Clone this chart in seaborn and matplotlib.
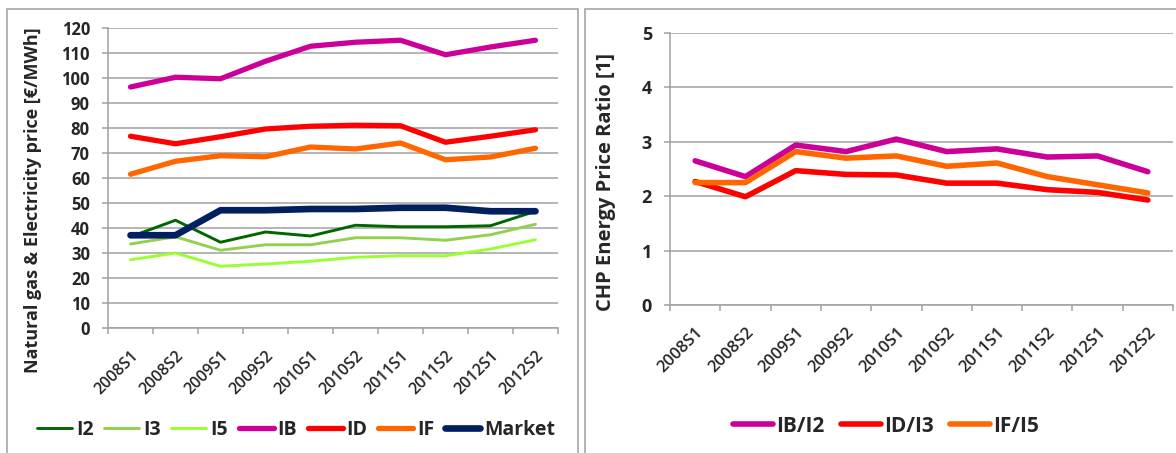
import matplotlib
matplotlib.use("Agg")
import matplotlib.pyplot as plt
import seaborn as sns
import pandas as pd
from matplotlib.patches import Rectangle

# Half-year periods
periods = ["2008S1", "2008S2", "2009S1", "2009S2", "2010S1",
           "2010S2", "2011S1", "2011S2", "2012S1", "2012S2"]

# Natural gas prices by consumer band [EUR/MWh]
i2 = [36.5, 43.1, 34.3, 38.4, 36.8, 41.1, 40.5, 40.5, 40.9, 46.7]
i3 = [33.6, 36.5, 31.1, 33.3, 33.3, 36.1, 36.1, 35.1, 37.3, 41.5]
i5 = [27.3, 30.0, 24.7, 25.6, 26.7, 28.3, 28.9, 28.9, 31.6, 35.3]
# Electricity prices by consumer band [EUR/MWh]
ib = [96.4, 100.3, 99.7, 106.7, 112.7, 114.3, 115.1, 109.3, 112.4, 115.1]
id_ = [76.7, 73.7, 76.5, 79.6, 80.7, 81.1, 80.9, 74.3, 76.7, 79.3]
if_ = [61.5, 66.7, 68.9, 68.5, 72.4, 71.6, 74.0, 67.3, 68.4, 71.9]
market = [37.1, 37.1, 47.1, 47.1, 47.6, 47.6, 48.1, 48.1, 46.7, 46.7]

# CHP energy price ratios [1]
ib_i2 = [2.65, 2.36, 2.94, 2.82, 3.05, 2.82, 2.87, 2.72, 2.74, 2.45]
id_i3 = [2.27, 1.99, 2.47, 2.40, 2.39, 2.24, 2.24, 2.12, 2.07, 1.93]
if_i5 = [2.25, 2.25, 2.82, 2.70, 2.74, 2.55, 2.61, 2.36, 2.21, 2.06]

price_series = [
    ("I2", i2, "#006600", 2.1),
    ("I3", i3, "#92D050", 2.1),
    ("I5", i5, "#99FF33", 2.1),
    ("IB", ib, "#CC0099", 3.8),
    ("ID", id_, "#FF0000", 3.8),
    ("IF", if_, "#FF6600", 3.8),
    ("Market", market, "#002060", 4.8),
]
ratio_series = [
    ("IB/I2", ib_i2, "#CC0099", 4.0),
    ("ID/I3", id_i3, "#FF0000", 4.0),
    ("IF/I5", if_i5, "#FF6600", 4.0),
]

sns.set_theme(style="white")
plt.rcParams["font.family"] = ["Open Sans", "DejaVu Sans"]

W, H = 1176, 453
fig = plt.figure(figsize=(W / 100, H / 100), dpi=100)
GRID = "#A0A0A0"


def px_axes(x0, y0, x1, y1):
    return fig.add_axes([x0 / W, 1 - y1 / H, (x1 - x0) / W, (y1 - y0) / H])


def style_axes(ax, ymax, ystep, xlabelsize, ytsize):
    n = len(periods)
    ax.set_xlim(-0.5, n - 0.5)
    ax.set_ylim(0, ymax)
    ax.set_yticks(range(0, ymax + 1, ystep))
    ax.yaxis.grid(True, color=GRID, lw=1.1)
    ax.xaxis.grid(False)
    for s in ("top", "right"):
        ax.spines[s].set_visible(False)
    for s in ("left", "bottom"):
        ax.spines[s].set_color(GRID)
        ax.spines[s].set_linewidth(1.1)
    ax.set_xticks([i - 0.5 for i in range(n + 1)])
    ax.set_xticklabels([])
    ax.set_xticks(range(n), minor=True)
    ax.set_xticklabels(periods, minor=True, rotation=45, ha="right",
                       va="top", rotation_mode="anchor", fontsize=xlabelsize,
                       fontweight="semibold")
    ax.tick_params(axis="x", which="major", length=4.5, width=1.1,
                   color=GRID, bottom=True, direction="out")
    ax.tick_params(axis="x", which="minor", length=0, pad=14)
    ax.tick_params(axis="y", length=4.5, width=1.1, color=GRID, left=True,
                   direction="out", labelsize=ytsize, pad=8.5)
    for t in ax.get_yticklabels():
        t.set_fontweight("bold")
    ax.set_xlabel("")
    ax.set_ylabel("")


def draw(ax, series):
    pos = list(range(len(periods)))
    for name, vals, color, lw in series:
        df = pd.DataFrame({"pos": pos, "value": vals})
        sns.lineplot(data=df, x="pos", y="value", color=color, linewidth=lw,
                     label=name, ax=ax, solid_capstyle="round",
                     solid_joinstyle="round")


# Left panel: prices
ax1 = px_axes(108, 28, 558, 328)
draw(ax1, price_series)
style_axes(ax1, 120, 10, 11.5, 12)
h, l = ax1.get_legend_handles_labels()
ax1.legend(h, l, loc="center", bbox_to_anchor=(296 / W, 1 - 430 / H),
           bbox_transform=fig.transFigure, ncol=7, frameon=False,
           prop={"weight": "bold", "size": 14}, handlelength=1.8,
           handletextpad=0.2, columnspacing=0.55)
fig.text(33 / W, 1 - 200 / H, "Natural gas & Electricity price [€/MWh]",
         rotation=90, ha="center", va="center", fontsize=13,
         fontweight="bold")

# Right panel: ratios
ax2 = px_axes(670, 33, 1173, 305)
draw(ax2, ratio_series)
style_axes(ax2, 5, 1, 12, 13)
h, l = ax2.get_legend_handles_labels()
ax2.legend(h, l, loc="center", bbox_to_anchor=(886 / W, 1 - 426 / H),
           bbox_transform=fig.transFigure, ncol=3, frameon=False,
           prop={"weight": "bold", "size": 15}, handlelength=1.9,
           handletextpad=0.15, columnspacing=0.8)
fig.text(606 / W, 1 - 182 / H, "CHP Energy Price Ratio [1]",
         rotation=90, ha="center", va="center", fontsize=14.5,
         fontweight="bold")

# Panel frames
BOX = "#A6A6A6"
fig.add_artist(Rectangle((7 / W, -0.05), (578 - 7) / W, 1.05 - 9 / H,
                         transform=fig.transFigure, fill=False, ec=BOX,
                         lw=1.2))
fig.add_artist(Rectangle((585 / W, -0.05), 0.6, 1.05 - 9 / H,
                         transform=fig.transFigure, fill=False, ec=BOX,
                         lw=1.2))

fig.savefig("out.png", dpi=100)
